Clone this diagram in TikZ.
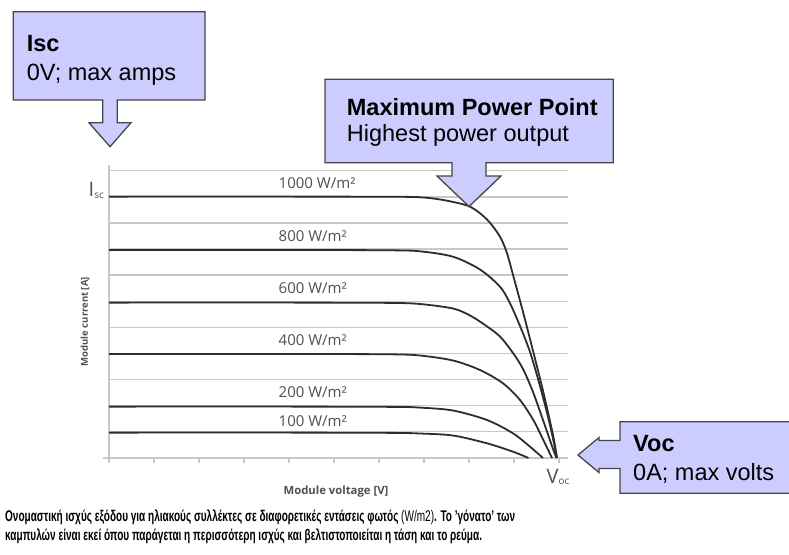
\documentclass[tikz,border=0pt]{standalone}
\usepackage{fontspec}
\usepackage{graphicx}
\setmainfont{Liberation Sans}
\newfontfamily\chartfont{Open Sans}
\definecolor{calloutfill}{RGB}{204,204,255}
\definecolor{calloutline}{RGB}{70,70,70}
\definecolor{gridgray}{RGB}{200,200,200}
\definecolor{curvegray}{RGB}{45,45,45}
\definecolor{labelgray}{RGB}{80,80,80}
\newcommand{\capfont}{\fontsize{15.5}{18}\selectfont\bfseries}
\newcommand{\capA}{Ονομαστική ισχύς εξόδου για ηλιακούς συλλέκτες σε διαφορετικές εντάσεις φωτός {\mdseries (W/m2)}. Το 'γόνατο' των}
\newcommand{\capB}{καμπυλών είναι εκεί όπου παράγεται η περισσότερη ισχύς και βελτιστοποιείται η τάση και το ρεύμα.}
\newlength\capw
\newsavebox\capboxA
\tikzset{
  callout/.style={fill=calloutfill, draw=calloutline, line width=1.3pt, line join=miter},
  gridline/.style={draw=gridgray, line width=1.4pt},
  ivcurve/.style={draw=curvegray, line width=1.8pt},
  irr/.style={font=\chartfont\fontsize{15}{17}\selectfont, text=labelgray, anchor=base west, inner sep=0pt},
  boxtitle/.style={font=\fontsize{23.5}{27}\selectfont\bfseries, anchor=base west, inner sep=0pt},
  boxtext/.style={font=\fontsize{23.5}{27}\selectfont, anchor=base west, inner sep=0pt},
  axislab/.style={font=\chartfont\bfseries, text=labelgray, inner sep=0pt},
  endlab/.style={font=\chartfont\fontsize{20}{22}\selectfont, text=labelgray, inner sep=0pt},
}
\begin{document}
\sbox\capboxA{\capfont\capA}%
\setlength\capw{\wd\capboxA}%
\pgfmathsetmacro{\capsx}{510/(\capw/1pt)}%
\begin{tikzpicture}[x=1pt,y=-1pt]
\useasboundingbox (0,0) rectangle (789,554);
\clip (0,0) rectangle (789,554);
\fill[white] (0,0) rectangle (789,554);

% grid
\foreach \k in {0,...,10} \draw[gridline] (109,{170.7+26.1*\k}) -- (568,{170.7+26.1*\k});
\draw[gridline] (109,165) -- (109,463);
\draw[gridline] (103,458) -- (568,458);
\foreach \k in {0,...,10} \draw[gridline, line width=1.2pt] ({109+45*\k},458) -- ({109+45*\k},463);

% I-V curves
\draw[ivcurve] plot[smooth, tension=0.5] coordinates {(109,196.6) (300,196.6) (400,196.8) (425,197.6) (447,200.7) (470,206.7) (487,219.5) (500,236.7) (507,253.3) (513.5,276.7) (523.3,313) (533.3,352) (543.3,392) (553,435) (557,458)};
\draw[ivcurve] plot[smooth, tension=0.5] coordinates {(109,250) (300,250) (390,250.3) (420,251.3) (453,256.7) (480,269.5) (500,286.7) (510,303.3) (520,326) (530,352) (540,386) (550,425) (557,458)};
\draw[ivcurve] plot[smooth, tension=0.5] coordinates {(109,302.6) (300,302.6) (390,302.9) (420,304) (453,308.5) (470,315.5) (485,325) (500,336.5) (513,353) (523,369) (533,392) (543,420) (553,449) (556.5,458)};
\draw[ivcurve] plot[smooth, tension=0.5] coordinates {(109,354) (300,354) (390,354.3) (420,355.5) (453,360.5) (480,370) (503,383.3) (520,400) (533.3,420) (543.3,440) (552,458)};
\draw[ivcurve] plot[smooth, tension=0.5] coordinates {(109,406.6) (300,406.6) (395,406.9) (420,407.6) (453,410.5) (487,420) (513,433.3) (530,446.7) (543,458)};
\draw[ivcurve] plot[smooth, tension=0.5] coordinates {(109,432.6) (300,432.6) (395,432.9) (420,433.5) (453,435.5) (487,443.3) (513,451.7) (528.5,458)};

% irradiance labels
\node[irr] (l1000) at (278.5,188.3) {1000 W/m²};
\node[irr] (l800) at (278.5,241.7) {800 W/m²};
\node[irr] (l600) at (278.5,293.5) {600 W/m²};
\node[irr] (l400) at (278.5,345.3) {400 W/m²};
\node[irr] (l200) at (278.5,397) {200 W/m²};
\node[irr] (l100) at (278.5,426.7) {100 W/m²};

% axis labels
\node[axislab, font=\chartfont\bfseries\fontsize{9.5}{11}\selectfont, rotate=90] (ylab) at (85,321.7) {Module current [A]};
\node[axislab, font=\chartfont\bfseries\fontsize{11.3}{13}\selectfont] (xlab) at (336,491.5) {Module voltage [V]};
\node[endlab, anchor=base east] (isclab) at (104,196.6) {I\raisebox{-1.5pt}{\fontsize{10}{11}\selectfont sc}};
\node[endlab, anchor=base west] (voclab) at (546.5,483.3) {V\raisebox{-1.5pt}{\fontsize{10}{11}\selectfont oc}};

% callouts
\draw[callout] (13.3,11.7) -- (205,11.7) -- (205,100) -- (117.3,100) -- (117.3,122.7) -- (131,122.7) -- (110,146.7) -- (89,122.7) -- (102.7,122.7) -- (102.7,100) -- (13.3,100) -- cycle;
\draw[callout] (325,79.3) -- (613.3,79.3) -- (613.3,162.7) -- (486,162.7) -- (486,176) -- (501,176) -- (469,206.5) -- (437,176) -- (452,176) -- (452,162.7) -- (325,162.7) -- cycle;
\draw[callout] (800,421.7) -- (620,421.7) -- (620,440.5) -- (599,440.5) -- (599,437.5) -- (578,455) -- (599,472.5) -- (599,468.5) -- (620,468.5) -- (620,493.3) -- (800,493.3) -- cycle;

\node[boxtitle] (isct) at (26.7,51.7) {Isc};
\node[boxtext] (iscs) at (26.7,80) {0V; max amps};
\node[boxtitle] (mppt) at (346.7,115) {Maximum Power Point};
\node[boxtext] (mpps) at (346.7,141.5) {Highest power output};
\node[boxtitle] (voct) at (633,451.7) {Voc};
\node[boxtext] (vocs) at (633,480) {0A; max volts};

% caption
\node[anchor=base west, inner sep=0pt] (capa) at (5,521.7) {\scalebox{\capsx}[1]{\capfont\capA}};
\node[anchor=base west, inner sep=0pt] (capb) at (5,540) {\scalebox{\capsx}[1]{\capfont\capB}};
\end{tikzpicture}
\end{document}
